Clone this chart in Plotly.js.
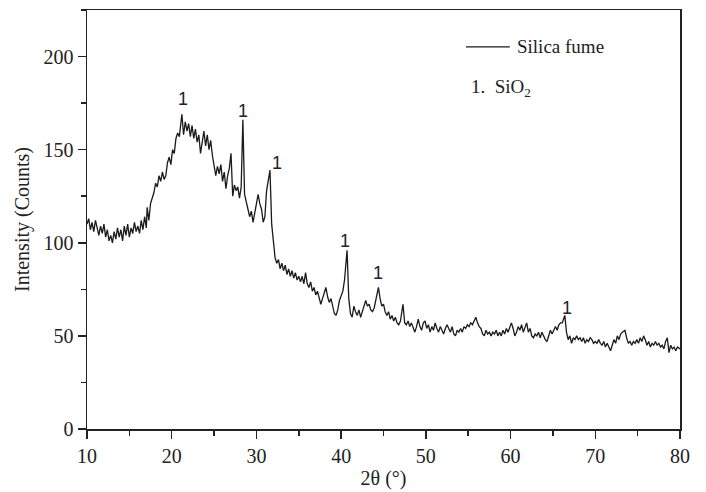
<!DOCTYPE html>
<html>
<head>
<meta charset="utf-8">
<script src="https://cdn.plot.ly/plotly-3.0.1.min.js"></script>
<style>html,body{margin:0;padding:0;background:#fff;}#chart{width:706px;height:492px;}</style>
</head>
<body>
<div id="chart"></div>
<script>
const twoTheta = [
10.0,10.2,10.4,10.6,10.8,11.0,11.2,11.4,11.6,11.8,12.0,12.2,12.4,12.6,12.8,13.0,13.2,13.4,13.6,13.8,
14.0,14.2,14.4,14.6,14.8,15.0,15.2,15.4,15.6,15.8,16.0,16.2,16.4,16.6,16.8,17.0,17.1,17.3,17.5,17.7,
17.9,18.1,18.3,18.5,18.7,18.9,19.1,19.3,19.5,19.7,19.9,20.1,20.3,20.5,20.7,20.9,21.2,21.4,21.6,21.8,
22.0,22.2,22.4,22.6,22.8,23.0,23.2,23.4,23.6,23.8,24.0,24.2,24.4,24.6,24.8,25.0,25.2,25.4,25.6,25.8,
26.0,26.2,26.4,26.6,26.8,27.0,27.2,27.4,27.6,27.8,28.0,28.2,28.4,28.6,28.8,29.0,29.2,29.4,29.6,29.8,
30.0,30.2,30.4,30.6,30.8,31.0,31.2,31.4,31.6,31.8,32.0,32.2,32.4,32.6,32.8,33.0,33.2,33.4,33.6,33.8,
34.0,34.2,34.4,34.6,34.8,35.0,35.2,35.4,35.6,35.8,36.0,36.2,36.4,36.6,36.8,37.0,37.2,37.4,37.6,37.8,
38.0,38.2,38.4,38.6,38.8,39.0,39.2,39.4,39.6,39.8,40.0,40.2,40.4,40.7,40.9,41.1,41.3,41.5,41.7,41.9,
42.1,42.3,42.5,42.7,42.9,43.1,43.3,43.5,43.7,43.9,44.1,44.4,44.6,44.8,45.0,45.2,45.4,45.6,45.8,46.0,
46.2,46.4,46.6,46.8,47.0,47.3,47.5,47.7,47.9,48.1,48.3,48.5,48.7,48.9,49.1,49.3,49.5,49.7,49.9,50.1,
50.3,50.5,50.7,50.9,51.1,51.3,51.5,51.7,51.9,52.1,52.3,52.5,52.7,52.9,53.1,53.3,53.5,53.7,53.9,54.1,
54.3,54.5,54.7,54.9,55.1,55.3,55.5,55.7,55.9,56.1,56.3,56.5,56.7,56.9,57.1,57.3,57.5,57.7,57.9,58.1,
58.3,58.5,58.7,58.9,59.1,59.3,59.5,59.7,59.9,60.1,60.3,60.5,60.7,60.9,61.1,61.3,61.5,61.7,61.9,62.1,
62.3,62.5,62.7,62.9,63.1,63.3,63.5,63.7,63.9,64.1,64.3,64.5,64.7,64.9,65.1,65.3,65.5,65.7,65.9,66.1,
66.4,66.6,66.8,67.0,67.2,67.4,67.6,67.8,68.0,68.2,68.4,68.6,68.8,69.0,69.2,69.4,69.6,69.8,70.0,70.2,
70.4,70.6,70.8,71.0,71.2,71.4,71.6,71.8,72.0,72.2,72.4,72.6,72.8,73.0,73.2,73.5,73.7,73.9,74.1,74.3,
74.5,74.7,74.9,75.1,75.3,75.5,75.7,75.9,76.1,76.3,76.5,76.7,76.9,77.1,77.3,77.5,77.7,77.9,78.1,78.3,
78.5,78.7,78.9,79.1,79.3,79.5,79.7,80.0
];
const intensity = [
110,113,107,111,106,112,108,104,109,105,110,103,107,101,104,100,106,102,108,103,
107,101,109,104,110,103,108,105,111,106,109,105,112,107,114,108,119,112,121,124,
127,132,130,136,133,138,134,136,143,146,142,150,148,156,159,157,169,158,165,160,
164,157,163,156,161,154,158,148,155,160,152,158,150,155,147,140,136,141,137,142,
133,138,129,136,140,148,125,131,128,130,124,130,166,126,121,118,114,117,111,116,
122,126,121,118,111,114,128,134,139,110,100,92,89,91,86,89,85,88,83,86,
82,85,81,84,80,82,79,82,78,84,78,76,79,74,76,72,74,70,67,70,
73,76,71,68,70,65,62,61,64,69,72,74,80,96,70,62,60,66,63,61,
64,60,63,66,69,66,67,64,63,65,70,76,70,66,67,63,61,63,59,61,
58,60,57,56,58,67,57,56,58,55,57,54,52,55,59,55,53,57,58,54,
56,52,55,53,57,54,52,55,53,51,54,56,54,52,55,51,50,53,52,54,
52,55,54,56,55,57,56,58,60,57,55,54,51,50,53,51,52,50,52,51,
53,50,52,50,53,51,54,52,55,57,54,50,52,55,53,56,52,55,57,52,
54,50,49,51,50,52,49,52,50,48,47,50,53,51,53,55,53,56,57,57,
61,52,48,50,46,49,48,50,48,49,47,49,46,48,47,49,48,46,47,46,
48,46,45,47,44,46,44,42,45,48,46,50,48,51,52,53,49,46,47,45,
47,46,48,46,49,47,50,48,45,47,44,46,45,47,45,46,44,45,43,47,
49,41,45,43,44,42,44,43
];
const peakLabelX = [21.3, 28.4, 32.4, 40.5, 44.4, 66.7];
const peakLabelY = [177, 171, 143, 101, 84, 65];
const peakLabelText = ["1","1","1","1","1","1"];
const seriesName = "Silica fume";
const phaseLabel = "1.&nbsp;&nbsp;SiO<sub>2</sub>";
const xTitle = "2θ (°)";
const yTitle = "Intensity (Counts)";

const serif = "'Liberation Serif', 'Times New Roman', serif";
const sans = "'Liberation Sans', Arial, sans-serif";

const annotations = peakLabelX.map((x, i) => ({
  x: x, y: peakLabelY[i], xref: 'x', yref: 'y', text: peakLabelText[i],
  showarrow: false, font: {family: sans, size: 18, color: '#222'}
}));
annotations.push({
  xref: 'paper', yref: 'paper', x: 0.722, y: 0.912, xanchor: 'left', yanchor: 'middle',
  text: seriesName, showarrow: false, font: {family: serif, size: 19, color: '#222'}
});
annotations.push({
  xref: 'paper', yref: 'paper', x: 0.645, y: 0.814, xanchor: 'left', yanchor: 'middle',
  text: phaseLabel, showarrow: false, font: {family: serif, size: 19, color: '#222'}
});

const data = [{
  x: twoTheta, y: intensity, type: 'scatter', mode: 'lines', name: seriesName,
  line: {color: '#1a1a1a', width: 1.3}, showlegend: false
}];

const axisCommon = {
  showline: true, linecolor: '#222', linewidth: 1.5, mirror: true,
  ticks: 'outside', ticklen: 8, tickwidth: 1.5, tickcolor: '#222',
  showgrid: false, zeroline: false,
  tickfont: {family: serif, size: 20, color: '#222'}
};

const layout = {
  width: 706, height: 492,
  margin: {l: 87, r: 26, t: 10, b: 63},
  paper_bgcolor: '#fff', plot_bgcolor: '#fff',
  showlegend: false,
  xaxis: Object.assign({}, axisCommon, {
    range: [10, 80], dtick: 10, tick0: 10,
    minor: {ticks: 'outside', ticklen: 5, tickwidth: 1.5, dtick: 5, tickcolor: '#222', showgrid: false},
    title: {text: xTitle, font: {family: serif, size: 20, color: '#222'}, standoff: 5}
  }),
  yaxis: Object.assign({}, axisCommon, {
    range: [0, 225], dtick: 50, tick0: 0,
    minor: {ticks: 'outside', ticklen: 5, tickwidth: 1.5, dtick: 25, tickcolor: '#222', showgrid: false},
    title: {text: yTitle, font: {family: serif, size: 20, color: '#222'}, standoff: 8}
  }),
  shapes: [{
    type: 'line', xref: 'paper', yref: 'paper', x0: 0.639, x1: 0.713, y0: 0.912, y1: 0.912,
    line: {color: '#1a1a1a', width: 1.3}
  }],
  annotations: annotations
};

Plotly.newPlot('chart', data, layout, {staticPlot: true, displayModeBar: false});
</script>
</body>
</html>
